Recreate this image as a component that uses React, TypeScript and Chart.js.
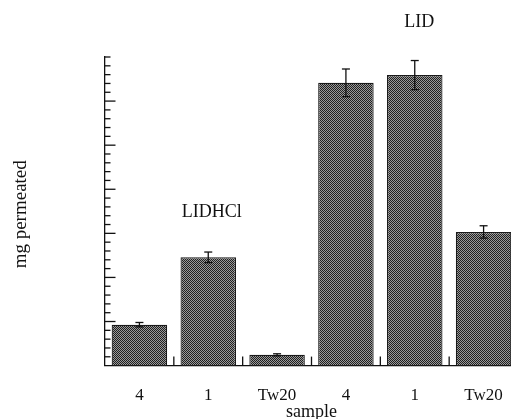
import React, { useEffect, useRef } from "react";
import { Chart, registerables } from "chart.js";

Chart.register(...registerables);

// ---- data ----
const categories = ["4", "1", "Tw20", "4", "1", "Tw20"];
const permeated = [4.64, 12.28, 1.22, 32.07, 32.95, 15.16];
const permeatedErr = [0.25, 0.6, 0.12, 1.57, 1.65, 0.7];
const groupLabels = ["LIDHCl", "LID"];
const groupLabelBar = [1, 4];
const yMax = 35;
const yMajorStep = 5;
const xTitle = "sample";
const yTitle = "mg permeated";

const FONT = "'Liberation Serif', 'Times New Roman', serif";
const INK = "#111";

function makePattern(): CanvasPattern | string {
  const pc = document.createElement("canvas");
  pc.width = 2;
  pc.height = 2;
  const g = pc.getContext("2d");
  if (!g) return "#5a5a5a";
  g.fillStyle = "#202020";
  g.fillRect(0, 0, 2, 2);
  g.fillStyle = "#9a9a9a";
  g.fillRect(1, 0, 1, 1);
  g.fillRect(0, 1, 1, 1);
  const p = g.createPattern(pc, "repeat");
  return p || "#5a5a5a";
}

const decorPlugin = {
  id: "decor",
  afterDatasetsDraw(chart: any) {
    const ctx: CanvasRenderingContext2D = chart.ctx;
    const xs = chart.scales.x;
    const ys = chart.scales.y;
    const area = chart.chartArea;
    const line = (x1: number, y1: number, x2: number, y2: number) => {
      ctx.beginPath();
      ctx.moveTo(x1, y1);
      ctx.lineTo(x2, y2);
      ctx.stroke();
    };
    ctx.save();
    ctx.strokeStyle = INK;
    ctx.lineWidth = 1.3;

    // inward y ticks
    for (let v = 1; v <= yMax; v++) {
      const py = ys.getPixelForValue(v);
      const major = v % yMajorStep === 0 && v < yMax;
      line(area.left, py, area.left + (major ? 10.5 : 5.5), py);
    }

    // inward x ticks at category boundaries
    for (let i = 1; i < categories.length; i++) {
      const px = (xs.getPixelForValue(i - 1) + xs.getPixelForValue(i)) / 2;
      line(px, area.bottom, px, area.bottom - 9);
    }

    // error bars
    const meta = chart.getDatasetMeta(0);
    meta.data.forEach((bar: any, i: number) => {
      const cx = bar.x;
      const t = ys.getPixelForValue(permeated[i] + permeatedErr[i]);
      const b = ys.getPixelForValue(permeated[i] - permeatedErr[i]);
      line(cx, t, cx, b);
      line(cx - 4, t, cx + 4, t);
      line(cx - 4, b, cx + 4, b);
    });

    // texts
    ctx.fillStyle = INK;
    ctx.textAlign = "center";
    ctx.textBaseline = "alphabetic";
    ctx.font = `18px ${FONT}`;
    const gy = [ys.getPixelForValue(16.8), ys.getPixelForValue(38.4)];
    const gdx = [3.5, 4.5];
    groupLabels.forEach((lab, k) => {
      const bx = meta.data[groupLabelBar[k]].x;
      ctx.fillText(lab, bx + gdx[k], gy[k]);
    });
    ctx.font = `18px ${FONT}`;
    ctx.fillText(xTitle, (xs.left + xs.right) / 2, area.bottom + 51);

    ctx.save();
    ctx.font = `19px ${FONT}`;
    ctx.translate(26, (area.top + area.bottom) / 2 + 3);
    ctx.rotate(-Math.PI / 2);
    ctx.fillText(yTitle, 0, 0);
    ctx.restore();

    ctx.restore();
  },
};

export default function App() {
  const ref = useRef<HTMLCanvasElement | null>(null);

  useEffect(() => {
    if (!ref.current) return;
    const fill = makePattern();
    const chart = new Chart(ref.current, {
      type: "bar",
      data: {
        labels: categories,
        datasets: [
          {
            data: permeated,
            backgroundColor: fill as any,
            borderColor: "#1a1a1a",
            borderWidth: 1.2,
            categoryPercentage: 1,
            barPercentage: 0.806,
          },
        ],
      },
      options: {
        responsive: false,
        animation: false,
        layout: { padding: { left: 97, right: 2, top: 57, bottom: 2 } },
        plugins: {
          legend: { display: false },
          tooltip: { enabled: false },
          title: { display: false },
        },
        scales: {
          x: {
            type: "category",
            offset: true,
            grid: { display: false },
            border: { display: true, color: INK, width: 1.3 },
            ticks: {
              color: INK,
              font: { family: FONT, size: 17 },
              padding: 11.5,
              maxRotation: 0,
              autoSkip: false,
            },
          },
          y: {
            min: 0,
            max: yMax,
            grid: { display: false },
            border: { display: true, color: INK, width: 1.3 },
            ticks: { display: false },
          },
        },
      },
      plugins: [decorPlugin],
    });
    return () => chart.destroy();
  }, []);

  return (
    <div
      style={{
        position: "absolute",
        left: 0,
        top: 0,
        width: 511,
        height: 419,
        overflow: "hidden",
        background: "#fff",
      }}
    >
      <canvas ref={ref} width={520} height={419} style={{ display: "block" }} />
    </div>
  );
}
